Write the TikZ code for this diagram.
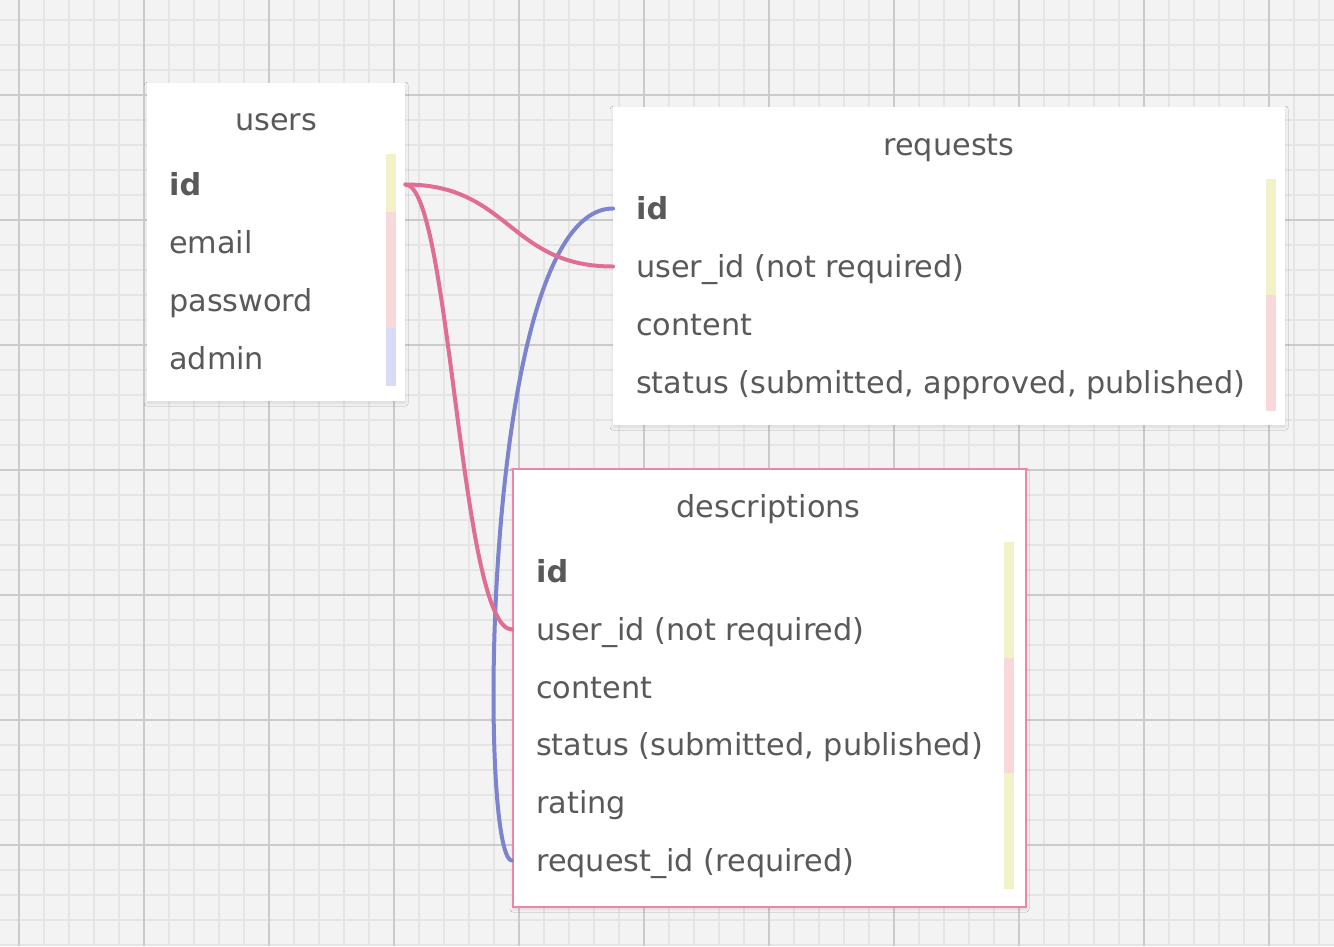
\documentclass[tikz,border=0pt]{standalone}
\usepackage{fontspec}
\setmainfont{DejaVu Sans}
\usetikzlibrary{shadows.blur}

\definecolor{gridbg}{HTML}{F3F3F3}
\definecolor{gridminor}{HTML}{E5E5E5}
\definecolor{gridmajor}{HTML}{CBCBCB}
\definecolor{txtgrey}{HTML}{595959}
\definecolor{baryellow}{HTML}{F2F2C9}
\definecolor{barpink}{HTML}{F8D8D8}
\definecolor{barblue}{HTML}{D9D9F8}
\definecolor{linkpink}{HTML}{E26D92}
\definecolor{linkblue}{HTML}{7C84CE}
\definecolor{boxpink}{HTML}{EE84A6}

\tikzset{
    tablebox/.style={fill=white, anchor=north west, inner sep=0pt,
        blur shadow={shadow xshift=0pt, shadow yshift=-2pt, shadow blur radius=3pt, shadow opacity=10}},
    tabletitle/.style={text=txtgrey, anchor=base, inner sep=0pt, font=\fontsize{30.3}{36}\selectfont},
    field/.style={text=txtgrey, anchor=base west, inner sep=0pt, text height=24pt, text depth=3pt,
        font=\fontsize{30.3}{36}\selectfont},
    link/.style={line width=4pt, line cap=round}
}

\begin{document}
\begin{tikzpicture}[x=1pt,y=-1pt]
        \useasboundingbox (0,0) rectangle (1334,946);
        % grid paper
        \fill[gridbg] (0,0) rectangle (1334,946);
        \foreach \x in {-6,19,...,1344} \draw[gridminor, line width=2pt] (\x,0)--(\x,946);
        \foreach \y in {20,45,...,945} \draw[gridminor, line width=2pt] (0,\y)--(1334,\y);
        \foreach \x in {19,144,...,1269} \draw[gridmajor, line width=2pt] (\x,0)--(\x,946);
        \foreach \y in {95,220,...,845} \draw[gridmajor, line width=2pt] (0,\y)--(1334,\y);

        % users
        \node[tablebox, minimum width=258pt, minimum height=318pt] (users) at (147,83) {};
        \node[tabletitle] (users-title) at (276,130) {users};
        \node[field] (u-id) at (169,195) {\textbf{id}};
        \node[field] (u-email) at (169,253) {email};
        \node[field] (u-password) at (169,311) {password};
        \node[field] (u-admin) at (169,369) {admin};
        \fill[baryellow] (386,154) rectangle (396,212);
        \fill[barpink] (386,212) rectangle (396,328);
        \fill[barblue] (386,328) rectangle (396,386);

        % requests
        \node[tablebox, minimum width=672pt, minimum height=318pt] (requests) at (613,107) {};
        \node[tabletitle] (requests-title) at (949,155) {requests};
        \node[field] (r-id) at (636,219) {\textbf{id}};
        \node[field] (r-userid) at (636,277) {user\_id (not required)};
        \node[field] (r-content) at (636,335) {content};
        \node[field] (r-status) at (636,393) {status (submitted, approved, published)};
        \fill[baryellow] (1266,179) rectangle (1276,295);
        \fill[barpink] (1266,295) rectangle (1276,411);

        % descriptions
        \node[tablebox, draw=boxpink, line width=2pt, minimum width=513pt, minimum height=438pt] (descr) at (512,468) {};
        \node[tabletitle] (descr-title) at (768.5,517) {descriptions};
        \node[field] (d-id) at (536,582) {\textbf{id}};
        \node[field] (d-userid) at (536,640) {user\_id (not required)};
        \node[field] (d-content) at (536,698) {content};
        \node[field] (d-status) at (536,755) {status (submitted, published)};
        \node[field] (d-rating) at (536,813) {rating};
        \node[field] (d-reqid) at (536,871) {request\_id (required)};
        \fill[baryellow] (1004,542) rectangle (1014,658);
        \fill[barpink] (1004,658) rectangle (1014,773);
        \fill[baryellow] (1004,773) rectangle (1014,889);

        % relations
        \draw[link, linkblue] (r-id -| requests.west) .. controls +(-133,0) and +(-34,0) .. (d-reqid -| descr.west);
        \draw[link, linkpink] (u-id -| users.east) .. controls +(104,0) and +(-104,0) .. (r-userid -| requests.west);
        \draw[link, linkpink] (u-id -| users.east) .. controls +(45,0) and +(-52,0) .. (d-userid -| descr.west);
    \end{tikzpicture}
\end{document}
